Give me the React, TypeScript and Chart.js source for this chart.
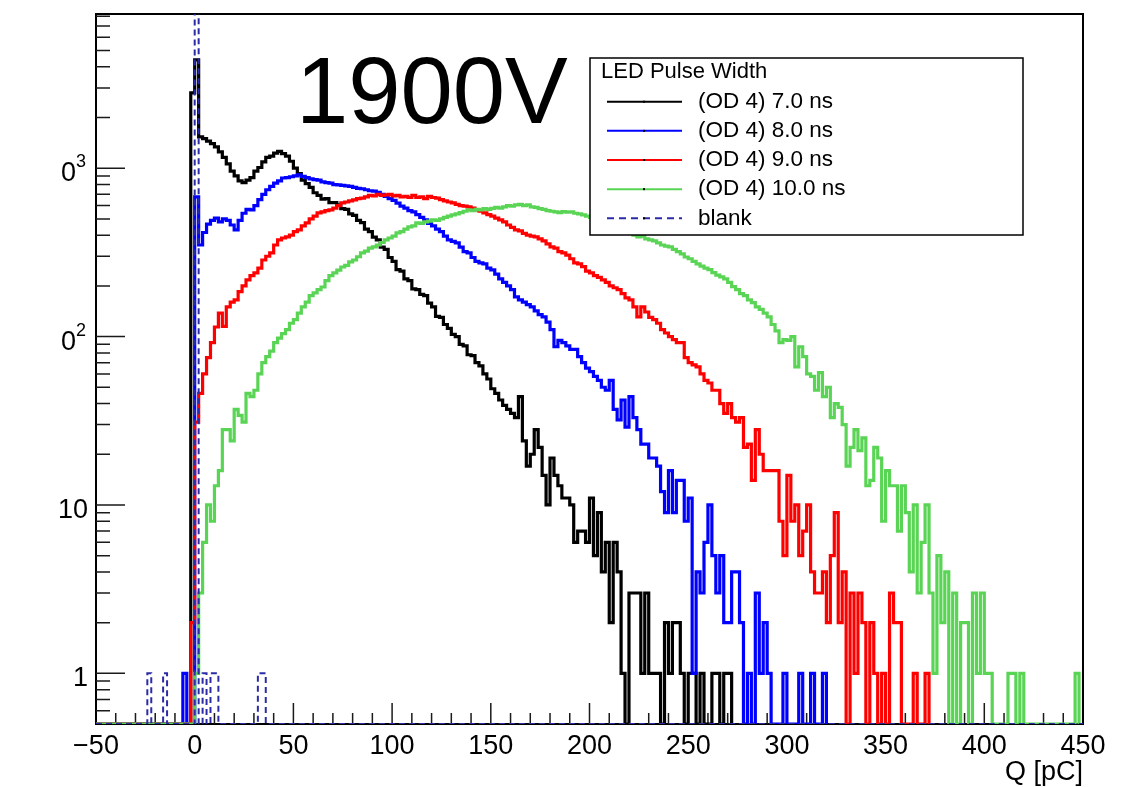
import { useEffect, useRef } from 'react';
import { Chart, registerables } from 'chart.js';

Chart.register(...registerables);

// Histogram binning (pC) and axis ranges
const BIN_WIDTH = 2;
const Q_MIN = -50;
const Q_MAX = 450;
const COUNT_MIN = 0.5;
const COUNT_MAX = 8240;

// Counts per 2 pC bin, first bin starts at SIGNAL_FIRST_BIN
const SIGNAL_FIRST_BIN = -8;

const OD4_7NS = [
  0, 0, 0, 2800, 4400, 1535, 1500, 1450, 1400, 1340,
  1250, 1160, 1060, 960, 900, 840, 820, 850, 880, 960,
  1010, 1090, 1160, 1180, 1230, 1260, 1220, 1180, 1100, 1000,
  930, 850, 810, 770, 715, 690, 655, 660, 625, 625,
  605, 575, 570, 535, 525, 490, 475, 435, 420, 390,
  375, 340, 330, 295, 280, 250, 245, 220, 215, 192,
  190, 178, 175, 158, 150, 132, 130, 118, 112, 103,
  100, 90, 88, 78, 77, 70, 67, 60, 56, 49,
  46, 42, 39, 37, 35, 33, 44, 24, 17, 20,
  28, 22, 15, 10, 19, 15, 13, 11, 11, 10,
  6, 7, 7, 6, 11, 5, 9, 4, 6, 2,
  6, 4, 1, 0, 3, 3, 3, 1, 3, 1,
  1, 1, 0, 2, 1, 2, 2, 1, 0, 1,
  1, 0, 1, 0, 0, 1, 1, 0, 1, 1,
];

const OD4_8NS = [
  0, 1, 0, 0, 676, 350, 415, 465, 490, 505,
  480, 500, 490, 460, 430, 490, 540, 570, 565, 600,
  650, 700, 745, 780, 815, 840, 875, 880, 890, 900,
  912, 895, 880, 865, 855, 850, 830, 820, 815, 800,
  796, 790, 785, 780, 770, 760, 755, 745, 735, 730,
  720, 700, 680, 660, 645, 620, 595, 580, 560, 550,
  530, 510, 493, 470, 455, 435, 420, 395, 375, 368,
  360, 340, 320, 314, 295, 280, 274, 270, 255, 249,
  235, 220, 210, 200, 190, 172, 165, 160, 155, 150,
  142, 135, 131, 122, 110, 87, 95, 92, 88, 84,
  84, 76, 70, 65, 62, 58, 55, 50, 48, 55,
  37, 32, 42, 29, 44, 33, 28, 23, 23, 19,
  19, 17, 12, 9, 16, 9, 14, 14, 8, 11,
  1, 4, 3, 6, 10, 5, 3, 5, 2, 2,
  4, 4, 2, 0, 1, 0, 3, 1, 2, 1,
  0, 0, 0, 1, 0, 0, 0, 1, 0, 0,
  1, 0, 0, 1,
];

const OD4_9NS = [
  0, 0, 0, 2, 31, 46, 60, 75, 92, 114,
  138, 115, 150, 160, 165, 185, 200, 217, 230, 239,
  255, 285, 300, 314, 350, 375, 385, 391, 400, 420,
  430, 455, 474, 500, 520, 543, 550, 560, 565, 580,
  600, 622, 630, 640, 648, 660, 665, 676, 690, 685,
  700, 690, 694, 700, 685, 690, 676, 680, 670, 690,
  670, 675, 660, 680, 670, 665, 650, 640, 630, 622,
  610, 600, 595, 589, 580, 565, 555, 543, 530, 520,
  505, 493, 480, 460, 445, 430, 425, 410, 400, 395,
  391, 380, 370, 355, 341, 335, 320, 314, 305, 290,
  274, 270, 260, 245, 239, 230, 225, 217, 210, 200,
  195, 190, 180, 170, 165, 150, 131, 150, 140, 130,
  126, 120, 110, 105, 100, 96, 92, 92, 75, 70,
  68, 66, 60, 55, 53, 48, 48, 40, 35, 40,
  33, 31, 33, 22, 23, 14, 28, 20, 16, 16,
  16, 16, 8, 5, 15, 8, 10, 5, 7, 10,
  4, 3, 3, 4, 2, 5, 9, 2, 4, 0,
  3, 1, 3, 2, 0, 2, 1, 0, 1, 0,
  3, 2, 2, 0, 0, 0, 1, 0, 0, 1,
];

const OD4_10NS = [
  0, 0, 0, 0, 1, 3, 6, 10, 8, 13,
  16, 28, 28, 24, 37, 34, 31, 46, 44, 48,
  60, 70, 76, 82, 92, 98, 104, 110, 120, 126,
  138, 150, 160, 175, 182, 190, 197, 215, 230, 239,
  248, 259, 265, 278, 285, 298, 314, 322, 335, 341,
  350, 362, 375, 385, 395, 413, 420, 435, 448, 455,
  474, 470, 480, 485, 493, 490, 500, 510, 520, 528,
  535, 545, 555, 565, 560, 570, 565, 575, 570, 578,
  585, 580, 590, 600, 595, 605, 610, 600, 605, 590,
  585, 575, 570, 560, 555, 550, 545, 552, 548, 550,
  540, 535, 528, 520, 510, 500, 490, 480, 470, 460,
  450, 440, 430, 420, 410, 400, 391, 395, 380, 375,
  370, 360, 350, 345, 341, 330, 320, 310, 297, 290,
  280, 270, 262, 255, 250, 240, 232, 226, 220, 210,
  198, 190, 180, 175, 165, 159, 150, 145, 138, 131,
  118, 108, 92, 96, 95, 100, 66, 87, 76, 60,
  58, 48, 61, 44, 50, 33, 40, 38, 30, 17,
  22, 28, 21, 25, 13, 14, 22, 19, 8, 16,
  13, 13, 7, 13, 9, 4, 10, 3, 6, 10,
  3, 1, 5, 2, 4, 0, 3, 0, 2, 2,
  0, 3, 1, 3, 1, 1, 0, 0, 0, 0,
  1, 1, 0, 1, 0, 0, 0, 0, 0, 0,
  0, 0, 0, 0, 0, 0, 0, 1,
];

const BLANK_FIRST_BIN = -26;
const BLANK = [
  0, 1, 0, 0, 0, 1, 0, 0, 0, 0,
  0, 0, 0, 60000, 0, 1, 0, 1, 1, 0,
  0, 0, 0, 0, 0, 0, 0, 0, 0, 1,
  1,
];

const SERIES_LABELS = ['(OD 4) 7.0 ns', '(OD 4) 8.0 ns', '(OD 4) 9.0 ns', '(OD 4) 10.0 ns', 'blank'];
const SERIES_COLORS = ['#000000', '#0000ff', '#ff0000', '#59d454', '#2b2ba6'];
const LEGEND_TITLE = 'LED Pulse Width';
const VOLTAGE_LABEL = '1900V';
const X_TITLE = 'Q [pC]';

const X_TICK_VALUES = [-50, 0, 50, 100, 150, 200, 250, 300, 350, 400, 450];
const X_TICK_LABELS = ['\u221250', '0', '50', '100', '150', '200', '250', '300', '350', '400', '450'];
const Y_TICK_VALUES = [1, 10, 100, 1000];
const Y_TICK_BASE = ['1', '10', '0', '0'];
const Y_TICK_EXP = ['', '', '2', '3'];

const FONT = '"Liberation Sans", Arial, Helvetica, sans-serif';

type Pt = { x: number; y: number };

// Step outline of a histogram; empty bins sit on the lower edge of the log axis.
function histogramOutline(counts: number[], firstBin: number, toEnd: boolean): Pt[] {
  const pts: Pt[] = [{ x: Q_MIN, y: COUNT_MIN }];
  let last = counts.length - 1;
  while (last >= 0 && counts[last] === 0) last--;
  for (let i = 0; i <= last; i++) {
    pts.push({ x: firstBin + i * BIN_WIDTH, y: counts[i] > 0 ? counts[i] : COUNT_MIN });
  }
  pts.push({ x: firstBin + (last + 1) * BIN_WIDTH, y: COUNT_MIN });
  if (toEnd) pts.push({ x: Q_MAX, y: COUNT_MIN });
  return pts;
}

const rootFrame = {
  id: 'rootFrame',
  beforeDatasetsDraw(chart: any) {
    const { ctx, chartArea: a } = chart;
    const xs = chart.scales.x;
    const ys = chart.scales.y;
    ctx.save();
    ctx.strokeStyle = '#000';
    ctx.lineWidth = 2;
    ctx.strokeRect(a.left, a.top, a.right - a.left, a.bottom - a.top);

    ctx.lineWidth = 1.5;
    ctx.strokeStyle = '#1a1a1a';
    ctx.beginPath();
    for (let q = Q_MIN + 10; q < Q_MAX; q += 10) {
      const px = xs.getPixelForValue(q);
      const len = q % 50 === 0 ? 21 : 11;
      ctx.moveTo(px, a.bottom);
      ctx.lineTo(px, a.bottom - len);
    }
    for (let e = -1; e <= 3; e++) {
      for (let m = 1; m <= 9; m++) {
        const v = m * Math.pow(10, e);
        if (v <= COUNT_MIN || v >= COUNT_MAX) continue;
        const py = ys.getPixelForValue(v);
        const len = m === 1 ? 29 : 14;
        ctx.moveTo(a.left, py);
        ctx.lineTo(a.left + len, py);
      }
    }
    ctx.stroke();

    ctx.fillStyle = '#000';
    ctx.font = `27px ${FONT}`;
    ctx.textAlign = 'center';
    ctx.textBaseline = 'alphabetic';
    X_TICK_VALUES.forEach((v, i) => {
      ctx.fillText(X_TICK_LABELS[i], xs.getPixelForValue(v), a.bottom + 30);
    });
    ctx.textAlign = 'right';
    ctx.fillText(X_TITLE, a.right, a.bottom + 56);

    Y_TICK_VALUES.forEach((v, i) => {
      const base = ys.getPixelForValue(v) + 13;
      let right = 88;
      if (Y_TICK_EXP[i]) {
        ctx.font = `18px ${FONT}`;
        ctx.fillText(Y_TICK_EXP[i], 86, base - 14);
        right = 86 - ctx.measureText(Y_TICK_EXP[i]).width;
        ctx.font = `27px ${FONT}`;
      }
      ctx.fillText(Y_TICK_BASE[i], right, base);
    });
    ctx.restore();
  },
  afterDatasetsDraw(chart: any) {
    const { ctx } = chart;
    ctx.save();
    // big voltage label
    ctx.fillStyle = '#000';
    ctx.font = `94px ${FONT}`;
    ctx.textAlign = 'left';
    ctx.textBaseline = 'alphabetic';
    ctx.fillText(VOLTAGE_LABEL, 296, 123);

    // legend box
    const L = { left: 590, top: 58, right: 1023, bottom: 235 };
    ctx.fillStyle = '#fff';
    ctx.fillRect(L.left, L.top, L.right - L.left, L.bottom - L.top);
    ctx.strokeStyle = '#000';
    ctx.lineWidth = 1.5;
    ctx.strokeRect(L.left, L.top, L.right - L.left, L.bottom - L.top);

    ctx.fillStyle = '#000';
    ctx.font = `22px ${FONT}`;
    ctx.textBaseline = 'middle';
    ctx.fillText(LEGEND_TITLE, 601, 72);

    SERIES_LABELS.forEach((label, i) => {
      const y = 101.7 + i * 29.15;
      ctx.strokeStyle = SERIES_COLORS[i];
      ctx.lineWidth = 2;
      ctx.setLineDash(i === 4 ? [7, 5] : []);
      ctx.beginPath();
      ctx.moveTo(607, y);
      ctx.lineTo(682, y);
      ctx.stroke();
      ctx.setLineDash([]);
      ctx.fillStyle = '#000';
      ctx.fillRect(643, y - 1, 2, 2);
      ctx.font = `22.5px ${FONT}`;
      ctx.fillText(label, 698, y);
    });
    ctx.restore();
  },
};

export default function App() {
  const canvasRef = useRef<HTMLCanvasElement | null>(null);

  useEffect(() => {
    const canvas = canvasRef.current;
    if (!canvas) return;
    const signals = [OD4_7NS, OD4_8NS, OD4_9NS, OD4_10NS];
    const datasets: any[] = signals.map((counts, i) => ({
      label: SERIES_LABELS[i],
      data: histogramOutline(counts, SIGNAL_FIRST_BIN, false),
      borderColor: SERIES_COLORS[i],
      borderWidth: 3.2,
      stepped: true,
      pointRadius: 0,
      fill: false,
      clip: 0,
      order: 4 - i,
    }));
    datasets.push({
      label: SERIES_LABELS[4],
      data: histogramOutline(BLANK, BLANK_FIRST_BIN, true),
      borderColor: SERIES_COLORS[4],
      borderWidth: 2,
      borderDash: [6, 4],
      stepped: true,
      pointRadius: 0,
      fill: false,
      clip: 0,
      order: -1,
    });

    const chart = new Chart(canvas, {
      type: 'line',
      data: { datasets },
      options: {
        animation: false,
        responsive: false,
        events: [],
        layout: { padding: { left: 96, top: 14, right: 49, bottom: 63 } },
        scales: {
          x: { type: 'linear', min: Q_MIN, max: Q_MAX, display: false },
          y: { type: 'logarithmic', min: COUNT_MIN, max: COUNT_MAX, display: false },
        },
        plugins: { legend: { display: false }, tooltip: { enabled: false } },
      },
      plugins: [rootFrame],
    } as any);
    return () => chart.destroy();
  }, []);

  return (
    <div style={{ position: 'absolute', left: 0, top: 0, width: 1132, height: 787, background: '#fff' }}>
      <canvas ref={canvasRef} width={1132} height={787} style={{ width: 1132, height: 787, display: 'block' }} />
    </div>
  );
}
